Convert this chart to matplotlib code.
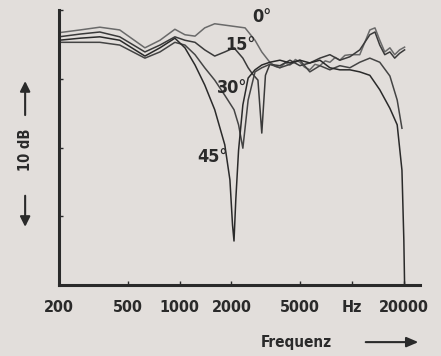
import numpy as np
import matplotlib
matplotlib.use('Agg')
import matplotlib.pyplot as plt

# Richtcharakteristik - Pegel in dB ueber Frequenz, vier Winkel
f_0 = [200, 265, 345, 450, 630, 770, 940, 1075, 1230, 1400, 1600, 1960, 2400, 2740, 3000, 3340,
       3600, 3820, 4100, 4370, 4700, 4990, 5300, 5700, 6100, 6520, 7000, 7450, 8000, 8510, 9100,
       9730, 11100, 12700, 13600, 14500, 15500, 16600, 17700, 18900, 20200]
db_0 = [-3.3, -2.9, -2.5, -2.9, -5.5, -4.4, -2.8, -3.6, -3.8, -2.6, -2.0, -2.3, -2.6, -4.4, -6.1, -7.6,
        -8.2, -8.4, -7.7, -8.0, -7.2, -7.6, -8.3, -8.7, -7.9, -8.1, -7.4, -7.6, -6.9, -7.3, -6.6,
        -6.5, -6.5, -2.9, -2.6, -4.4, -6.1, -5.5, -6.5, -5.8, -5.4]

f_15 = [200, 265, 345, 450, 630, 770, 940, 1075, 1230, 1400, 1600, 1830, 2070, 2330, 2500, 2650,
        2850, 3000, 3150, 3340, 3820, 4370, 4990, 5700, 6520, 7450, 8510, 9730, 11100, 12700,
        13600, 14500, 15500, 16600, 17700, 18900, 20200]
db_15 = [-3.9, -3.5, -3.2, -3.9, -6.1, -5.1, -3.9, -4.4, -4.7, -5.8, -6.7, -6.1, -5.5, -7.0, -8.4, -9.3,
         -10.2, -17.9, -9.5, -7.9, -8.1, -7.3, -8.1, -7.7, -7.0, -6.5, -7.3, -6.8, -5.8, -3.6,
         -3.2, -5.1, -6.5, -6.1, -7.0, -6.3, -5.8]

f_30 = [200, 265, 345, 450, 630, 770, 940, 1075, 1230, 1400, 1600, 1830, 2070, 2200, 2330, 2500,
        2740, 3000, 3340, 3820, 4370, 4990, 5700, 6520, 7450, 8510, 9730, 11100, 12700, 14500,
        16600, 18300, 19500]
db_30 = [-4.7, -4.7, -4.7, -5.1, -7.0, -6.1, -4.7, -5.1, -6.5, -8.4, -10.2, -12.4, -14.5, -16.7, -20.1, -13.1,
         -9.0, -8.4, -7.9, -8.4, -7.9, -7.3, -9.0, -8.1, -8.7, -8.1, -8.4, -7.6, -7.0, -7.6,
         -9.6, -13.1, -17.2]

f_45 = [200, 265, 345, 450, 630, 770, 940, 1075, 1230, 1400, 1600, 1830, 1960, 2030, 2070, 2120,
        2200, 2330, 2500, 2740, 3000, 3340, 3820, 4370, 4990, 5700, 6520, 7450, 8510, 9730,
        11100, 12700, 14500, 16600, 18300, 19500, 20000, 20200]
db_45 = [-4.4, -4.1, -3.9, -4.4, -6.7, -5.5, -4.1, -5.5, -8.0, -10.9, -14.5, -19.6, -24.7, -31.3, -33.6, -27.6,
         -20.4, -13.8, -9.9, -8.7, -8.0, -7.6, -7.3, -7.7, -7.3, -7.7, -7.3, -8.4, -8.7, -8.7,
         -9.0, -9.5, -11.6, -14.3, -16.7, -23.3, -33.5, -40.0]

labels = ['0°', '15°', '30°', '45°']
label_pos = [(3000, -1.0), (2250, -5.1), (2020, -11.3), (1560, -21.4)]

xticks = [200, 500, 1000, 2000, 5000, 10000, 20000]
xticklabels = ['200', '500', '1000', '2000', '5000', 'Hz', '20000']

bg = '#e2dedb'
ink = '#2a2a2a'
fnt = dict(family='DejaVu Sans', fontweight='bold', fontstretch='condensed')

fig = plt.figure(figsize=(4.41, 3.56), dpi=100, facecolor=bg)
ax = fig.add_axes([0.1338, 0.1994, 0.952 - 0.1338, 0.9719 - 0.1994])
ax.set_facecolor(bg)

for f, d, c in zip([f_0, f_15, f_30, f_45], [db_0, db_15, db_30, db_45],
                   ['#6a6a6a', '#3a3a3a', '#444444', '#2a2a2a']):
    ax.plot(f, d, color=c, linewidth=1.1)

for lab, (x, y) in zip(labels, label_pos):
    ax.text(x, y, lab, ha='center', va='center', fontsize=13, color=ink, **fnt)

ax.set_xscale('log')
ax.set_xlim(200, 24760)
ax.set_ylim(-40, 0)
ax.set_xticks(xticks)
ax.set_xticklabels(xticklabels, fontsize=11.5, color=ink, **fnt)
ax.xaxis.set_minor_locator(matplotlib.ticker.NullLocator())
ax.set_yticks([-30, -20, -10, 0])
ax.set_yticklabels([])
ax.tick_params(axis='both', direction='in', length=3, width=1, color=ink)
ax.tick_params(axis='x', pad=11)
for s in ['top', 'right']:
    ax.spines[s].set_visible(False)
for s in ['left', 'bottom']:
    ax.spines[s].set_linewidth(2.2)
    ax.spines[s].set_color(ink)

# Achsbeschriftungen mit Pfeilen
fig.text(0.057, 0.579, '10 dB', rotation=90, ha='center', va='center', fontsize=10.5, color=ink, **fnt)
fig.add_artist(matplotlib.patches.FancyArrowPatch((0.057, 0.669), (0.057, 0.78), transform=fig.transFigure,
                                                  arrowstyle='-|>,head_length=6,head_width=3', color=ink, lw=1.5))
fig.add_artist(matplotlib.patches.FancyArrowPatch((0.057, 0.458), (0.057, 0.355), transform=fig.transFigure,
                                                  arrowstyle='-|>,head_length=6,head_width=3', color=ink, lw=1.5))
fig.text(0.671, 0.039, 'Frequenz', ha='center', va='center', fontsize=11, color=ink, **fnt)
fig.add_artist(matplotlib.patches.FancyArrowPatch((0.823, 0.039), (0.955, 0.039), transform=fig.transFigure,
                                                  arrowstyle='-|>,head_length=7,head_width=3', color=ink, lw=1.5))

fig.savefig('out.png', dpi=100, facecolor=bg)
